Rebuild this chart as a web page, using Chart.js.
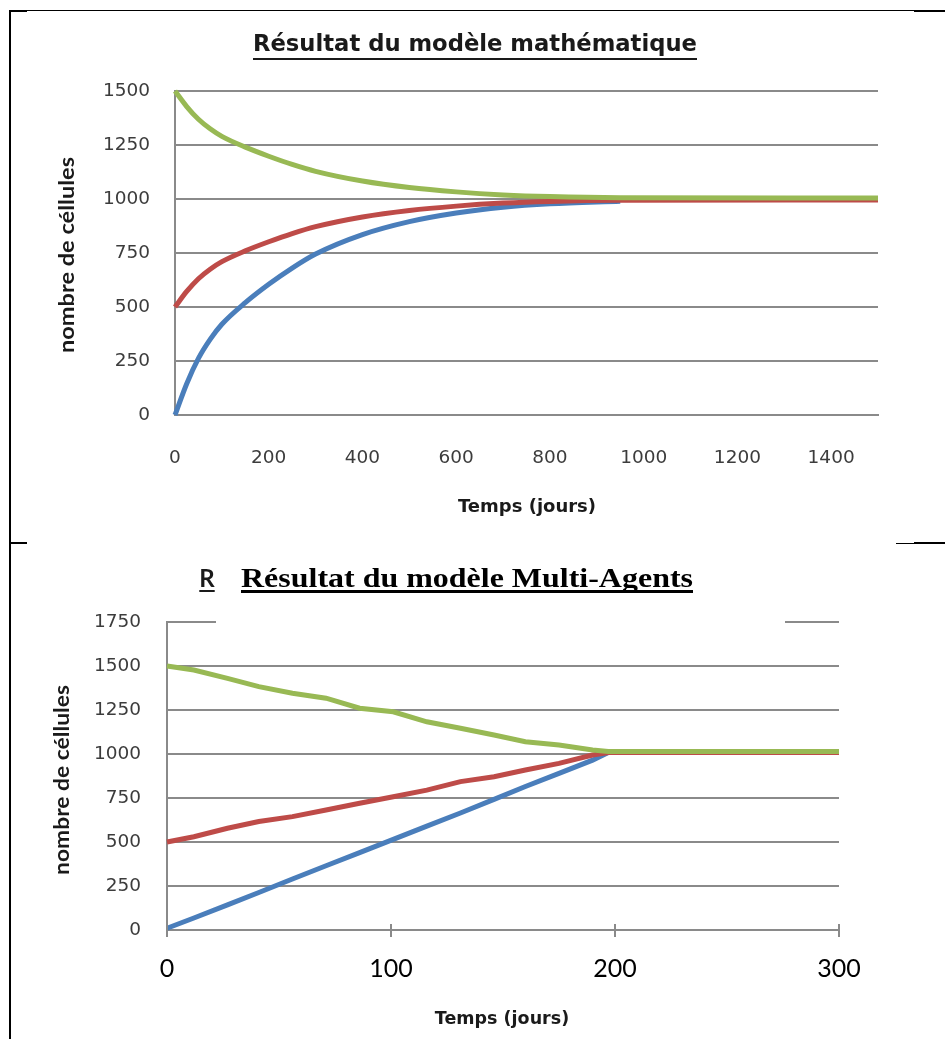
<!DOCTYPE html>
<html>
<head>
<meta charset="utf-8">
<script src="https://cdn.jsdelivr.net/npm/chart.js@4.4.1/dist/chart.umd.min.js"></script>
<style>
  html, body { margin: 0; padding: 0; background: #fff; }
  body { width: 945px; height: 1039px; position: relative; overflow: hidden; }
  canvas { position: absolute; left: 0; }
  .ln { position: absolute; background: #000; }
</style>
</head>
<body>
<canvas id="c1" width="945" height="530" style="top:0"></canvas>
<canvas id="c2" width="945" height="509" style="top:530px"></canvas>

<div class="ln" style="left:9px;top:10px;width:2px;height:1029px"></div>
<div class="ln" style="left:9px;top:10px;width:936px;height:1px"></div>
<div class="ln" style="left:9px;top:10px;width:18px;height:2px"></div>
<div class="ln" style="left:914px;top:10px;width:31px;height:2px"></div>
<div class="ln" style="left:9px;top:542px;width:18px;height:2px"></div>
<div class="ln" style="left:896px;top:543px;width:49px;height:1px"></div>
<div class="ln" style="left:914px;top:542px;width:31px;height:2px"></div>

<script>
// ---------- data: mathematical model ----------
const mathDays  = [0, 25, 50, 75, 100, 150, 200, 250, 300, 400, 500, 600, 700, 800, 950, 1500];
const mathBlue  = [0, 145, 262, 350, 420, 520, 605, 680, 745, 835, 895, 935, 962, 978, 990, null];
const mathRed   = [500, 572, 631, 675, 710, 760, 802, 840, 872, 917, 947, 967, 981, 989, 994, 995];
const mathGreen = [1500, 1428, 1369, 1325, 1290, 1240, 1198, 1160, 1128, 1083, 1053, 1033, 1019, 1011, 1006, 1005];
const mathXTicks = [0, 200, 400, 600, 800, 1000, 1200, 1400];
const mathYTicks = [0, 250, 500, 750, 1000, 1250, 1500];

// ---------- data: multi-agent model ----------
const agentDays  = [0, 12, 27, 41, 56, 71, 86, 101, 116, 131, 146, 160, 175, 190, 197, 300];
const agentBlue  = [10, 68, 143, 213, 290, 365, 440, 515, 590, 665, 742, 815, 890, 965, 1008, 1008];
const agentRed   = [500, 530, 578, 616, 644, 682, 720, 757, 795, 843, 871, 909, 947, 994, 1008, 1008];
const agentGreen = [1500, 1477, 1430, 1383, 1345, 1317, 1260, 1240, 1183, 1146, 1108, 1070, 1051, 1023, 1014, 1014];
const agentXTicks = [0, 100, 200, 300];
const agentYTicks = [0, 250, 500, 750, 1000, 1250, 1500, 1750];

const mathTitle = "Résultat du modèle mathématique";
const agentTitle = "Résultat du modèle Multi-Agents";
const yTitle = "nombre de céllules";
const xTitle = "Temps (jours)";

const BLUE = '#4a7ebb', RED = '#be4b48', GREEN = '#98b954';
const GRID = '#8a8a8a';

function pts(xs, ys) {
  const out = [];
  xs.forEach((x, i) => { if (ys[i] !== null) out.push({ x: x, y: ys[i] }); });
  return out;
}

function drawText(ctx, t) {
  ctx.save();
  ctx.font = t.font;
  ctx.fillStyle = t.color || '#000';
  ctx.textAlign = 'center';
  ctx.textBaseline = t.baseline || 'alphabetic';
  const w = ctx.measureText(t.text).width;
  const sx = t.width ? t.width / w : 1;
  ctx.translate(t.x, t.y);
  if (t.rotate) ctx.rotate(t.rotate);
  ctx.scale(sx, 1);
  ctx.fillText(t.text, 0, 0);
  if (t.underline) ctx.fillRect(-w / 2, t.underline[0], w, t.underline[1]);
  ctx.restore();
}

function datasets(days, b, r, g, smooth) {
  const common = { borderWidth: 5, pointRadius: 0, fill: false, clip: 8 };
  if (smooth) common.cubicInterpolationMode = 'monotone'; else common.tension = 0;
  return [
    Object.assign({ label: 'bleu', data: pts(days, b), borderColor: BLUE, order: 2 }, common),
    Object.assign({ label: 'rouge', data: pts(days, r), borderColor: RED, order: 1 }, common),
    Object.assign({ label: 'vert', data: pts(days, g), borderColor: GREEN, order: 0 }, common)
  ];
}

const plain = v => String(v);

// ---------- chart 1 ----------
new Chart(document.getElementById('c1'), {
  type: 'line',
  data: { datasets: datasets(mathDays, mathBlue, mathRed, mathGreen, true) },
  options: {
    responsive: false, animation: false,
    layout: { padding: { left: 0, top: 91, right: 67, bottom: 0 } },
    plugins: { legend: { display: false }, tooltip: { enabled: false }, title: { display: false } },
    scales: {
      x: {
        type: 'linear', min: 0, max: 1500,
        afterBuildTicks: s => { s.ticks = mathXTicks.map(v => ({ value: v })); },
        afterFit: s => { s.height = 115; },
        grid: { display: false, drawTicks: false },
        border: { display: true, color: GRID, width: 2 },
        ticks: { callback: plain, padding: 32, maxRotation: 0, autoSkip: false, color: '#3c3c3c', font: { family: 'DejaVu Sans', size: 18.5 } }
      },
      y: {
        min: 0, max: 1500,
        afterBuildTicks: s => { s.ticks = mathYTicks.map(v => ({ value: v })); },
        afterFit: s => { s.width = 175; },
        grid: { color: GRID, lineWidth: 2, drawTicks: false },
        border: { display: true, color: GRID, width: 2 },
        ticks: { callback: plain, padding: 25, color: '#3c3c3c', font: { family: 'DejaVu Sans', size: 18.5 } }
      }
    }
  },
  plugins: [{
    id: 'txt1',
    afterDraw(chart) {
      const ctx = chart.ctx;
      drawText(ctx, { text: mathTitle, font: 'bold 23px "DejaVu Sans"', x: 475, y: 51, width: 444, color: '#1a1a1a', underline: [7, 2] });
      drawText(ctx, { text: xTitle, font: 'bold 18px "DejaVu Sans"', x: 527, y: 507, baseline: 'middle', color: '#1a1a1a' });
      drawText(ctx, { text: yTitle, font: 'bold 21px Lato', x: 67, y: 255, baseline: 'middle', rotate: -Math.PI / 2, width: 196, color: '#1a1a1a' });
    }
  }]
});

// ---------- chart 2 ----------
new Chart(document.getElementById('c2'), {
  type: 'line',
  data: { datasets: datasets(agentDays, agentBlue, agentRed, agentGreen, false) },
  options: {
    responsive: false, animation: false,
    layout: { padding: { left: 0, top: 92, right: 106, bottom: 0 } },
    plugins: { legend: { display: false }, tooltip: { enabled: false }, title: { display: false } },
    scales: {
      x: {
        type: 'linear', min: 0, max: 300,
        afterBuildTicks: s => { s.ticks = agentXTicks.map(v => ({ value: v })); },
        afterFit: s => { s.height = 109; },
        grid: { display: false, drawTicks: false },
        border: { display: true, color: GRID, width: 2 },
        ticks: { callback: plain, padding: 24, maxRotation: 0, autoSkip: false, color: '#000', font: { family: 'Lato', size: 25 } }
      },
      y: {
        min: 0, max: 1750,
        afterBuildTicks: s => { s.ticks = agentYTicks.map(v => ({ value: v })); },
        afterFit: s => { s.width = 167; },
        grid: { color: GRID, lineWidth: 2, drawTicks: false },
        border: { display: true, color: GRID, width: 2 },
        ticks: { callback: plain, padding: 26, color: '#3c3c3c', font: { family: 'DejaVu Sans', size: 18.5 } }
      }
    }
  },
  plugins: [{
    id: 'txt2',
    afterDraw(chart) {
      const ctx = chart.ctx;
      const xs = chart.scales.x;
      const yb = chart.chartArea.bottom;
      ctx.save();
      ctx.fillStyle = GRID;
      agentXTicks.forEach(v => {
        const px = xs.getPixelForValue(v);
        ctx.fillRect(px - 1, yb - 6, 2, 13);
      });
      ctx.restore();
      // fragment of the original title, partly hidden by the pasted text box
      drawText(ctx, { text: 'R', font: 'bold 24px Lato', x: 207, y: 57, color: '#1a1a1a', underline: [3, 2] });
      ctx.save();
      ctx.fillStyle = '#fff';
      ctx.fillRect(216, 20, 569, 75);
      ctx.restore();
      drawText(ctx, { text: agentTitle, font: 'bold 27px "Liberation Serif"', x: 467, y: 57, width: 452, color: '#000', underline: [3, 3] });
      drawText(ctx, { text: xTitle, font: 'bold 17.5px "DejaVu Sans"', x: 502, y: 489, baseline: 'middle', color: '#1a1a1a' });
      drawText(ctx, { text: yTitle, font: 'bold 20px Lato', x: 63, y: 250, baseline: 'middle', rotate: -Math.PI / 2, width: 190, color: '#1a1a1a' });
    }
  }]
});
</script>
</body>
</html>
